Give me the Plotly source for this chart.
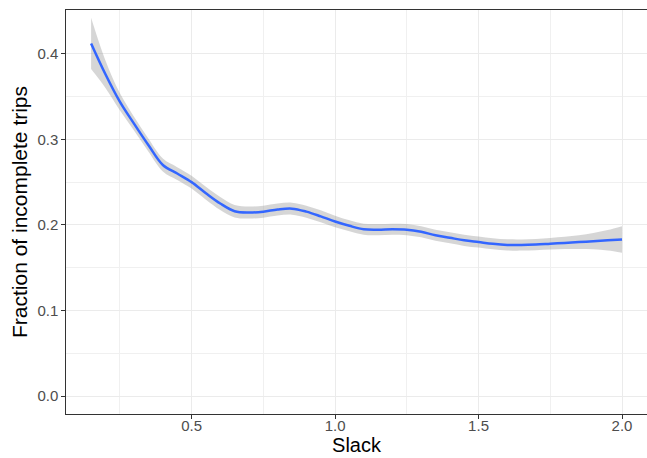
import plotly.graph_objects as go

slack = [0.15, 0.20, 0.25, 0.30, 0.35, 0.40, 0.45, 0.50, 0.55, 0.60, 0.65, 0.70,
         0.75, 0.80, 0.85, 0.90, 0.95, 1.00, 1.05, 1.10, 1.15, 1.20, 1.25, 1.30,
         1.35, 1.40, 1.45, 1.50, 1.55, 1.60, 1.65, 1.70, 1.75, 1.80, 1.85, 1.90,
         1.95, 2.00]
fraction = [0.412, 0.376, 0.344, 0.318, 0.293, 0.270, 0.260, 0.250, 0.237, 0.225,
            0.216, 0.2145, 0.2155, 0.218, 0.219, 0.2155, 0.210, 0.204, 0.199, 0.195,
            0.1945, 0.195, 0.1945, 0.192, 0.188, 0.185, 0.182, 0.180, 0.178, 0.1767,
            0.1765, 0.177, 0.178, 0.179, 0.180, 0.181, 0.182, 0.183]
half_width = [0.030, 0.016, 0.010, 0.008, 0.0075, 0.0075, 0.0075, 0.0075, 0.0075,
              0.0075, 0.0072, 0.007, 0.007, 0.007, 0.007, 0.007, 0.007, 0.0068,
              0.0065, 0.0065, 0.0065, 0.0065, 0.0065, 0.0065, 0.0065, 0.0065,
              0.0065, 0.0065, 0.0065, 0.0065, 0.0065, 0.0065, 0.0068, 0.0072,
              0.008, 0.0095, 0.012, 0.0155]

x_ticks = [0.5, 1.0, 1.5, 2.0]
x_tick_labels = ["0.5", "1.0", "1.5", "2.0"]
y_ticks = [0.0, 0.1, 0.2, 0.3, 0.4]
y_tick_labels = ["0.0", "0.1", "0.2", "0.3", "0.4"]

upper = [f + h for f, h in zip(fraction, half_width)]
lower = [f - h for f, h in zip(fraction, half_width)]

fig = go.Figure()
fig.add_trace(go.Scatter(x=slack, y=upper, mode="lines", line=dict(width=0, shape="spline"),
                         showlegend=False, hoverinfo="skip"))
fig.add_trace(go.Scatter(x=slack, y=lower, mode="lines", line=dict(width=0, shape="spline"),
                         fill="tonexty", fillcolor="rgba(153,153,153,0.4)",
                         showlegend=False, hoverinfo="skip"))
fig.add_trace(go.Scatter(x=slack, y=fraction, mode="lines",
                         line=dict(color="#3366FF", width=2.5, shape="spline"),
                         showlegend=False))

axis_font = dict(family="Liberation Sans, Arial, sans-serif", size=15, color="#4D4D4D")
fig.update_layout(
    width=647, height=458,
    margin=dict(l=66, r=0, t=9.5, b=43.5, autoexpand=False),
    paper_bgcolor="white", plot_bgcolor="white",
    font=dict(family="Liberation Sans, Arial, sans-serif"),
    xaxis=dict(
        range=[0.0625, 2.087], tickvals=x_ticks, ticktext=x_tick_labels,
        showgrid=True, gridcolor="#EBEBEB", gridwidth=1.2,
        minor=dict(tickvals=[0.25, 0.75, 1.25, 1.75], showgrid=True,
                   gridcolor="#F0F0F0", gridwidth=0.8),
        ticks="outside", ticklen=3.5, tickcolor="#333333", tickwidth=1,
        tickfont=axis_font, ticklabelstandoff=-6,
        showline=True, linecolor="#333333", linewidth=1.2, mirror=True,
        zeroline=False,
        title=dict(text="Slack", font=dict(size=20, color="black"), standoff=4),
    ),
    yaxis=dict(
        range=[-0.0208, 0.451], tickvals=y_ticks, ticktext=y_tick_labels,
        showgrid=True, gridcolor="#EBEBEB", gridwidth=1.2,
        minor=dict(tickvals=[0.05, 0.15, 0.25, 0.35, 0.45], showgrid=True,
                   gridcolor="#F0F0F0", gridwidth=0.8),
        ticks="outside", ticklen=3.5, tickcolor="#333333", tickwidth=1,
        tickfont=axis_font,
        showline=True, linecolor="#333333", linewidth=1.2, mirror=False,
        zeroline=False,
        title=dict(text="Fraction of incomplete trips", font=dict(size=21, color="black"),
                   standoff=4),
    ),
)

fig.write_html("out.html", config={"displayModeBar": False},
               post_script="document.body.style.margin='0px';document.body.style.overflow='hidden';")
